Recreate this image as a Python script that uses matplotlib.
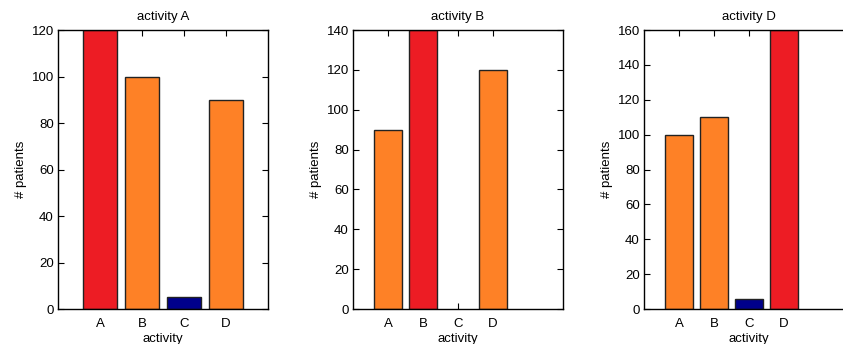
import numpy as np
import matplotlib
matplotlib.use('Agg')
import matplotlib.pyplot as plt

plt.rcParams['font.family'] = ['Liberation Sans', 'DejaVu Sans']

categories = ['A', 'B', 'C', 'D']
panel_activity = ['A', 'B', 'D']
counts_A = [120, 100, 5, 90]
counts_B = [90, 140, 0, 120]
counts_D = [100, 110, 6, 160]
ymax = [120, 140, 160]
xmax = [5, 6, 6]

RED = '#ED1C24'
ORANGE = '#FE8126'
NAVY = '#00008B'

fig = plt.figure(figsize=(8.43, 3.44), dpi=100)
lefts = [0.0688, 0.4187, 0.7639]

for i, counts in enumerate([counts_A, counts_B, counts_D]):
  ax = fig.add_axes([lefts[i], 0.1017, 0.249, 0.811])
  x = np.arange(1, len(categories) + 1)
  colors = []
  for c in categories:
    if c == panel_activity[i]:
      colors.append(RED)
    elif c == 'C':
      colors.append(NAVY)
    else:
      colors.append(ORANGE)
  vals = np.array(counts, dtype=float)
  mask = vals > 0
  ax.bar(x[mask], vals[mask], width=0.8, color=[colors[j] for j in range(len(colors)) if mask[j]],
         edgecolor='#222222', linewidth=1.0, zorder=2)
  ax.set_xlim(0, xmax[i])
  ax.set_ylim(0, ymax[i])
  ax.set_xticks(x)
  ax.set_xticklabels(categories)
  ax.set_yticks(np.arange(0, ymax[i] + 1, 20))
  ax.tick_params(direction='in', top=True, right=True, length=4, width=0.8,
                 labelsize=9.5)
  ax.tick_params(axis='x', pad=6.5)
  ax.tick_params(axis='y', pad=3)
  for s in ax.spines.values():
    s.set_linewidth(1.0)
  ax.set_title('activity ' + panel_activity[i], fontsize=9.5, pad=7)
  ax.set_xlabel('activity', fontsize=9.5, labelpad=2)
  ax.set_ylabel('# patients', fontsize=9.5, labelpad=3)

fig.savefig('out.png', dpi=100)
